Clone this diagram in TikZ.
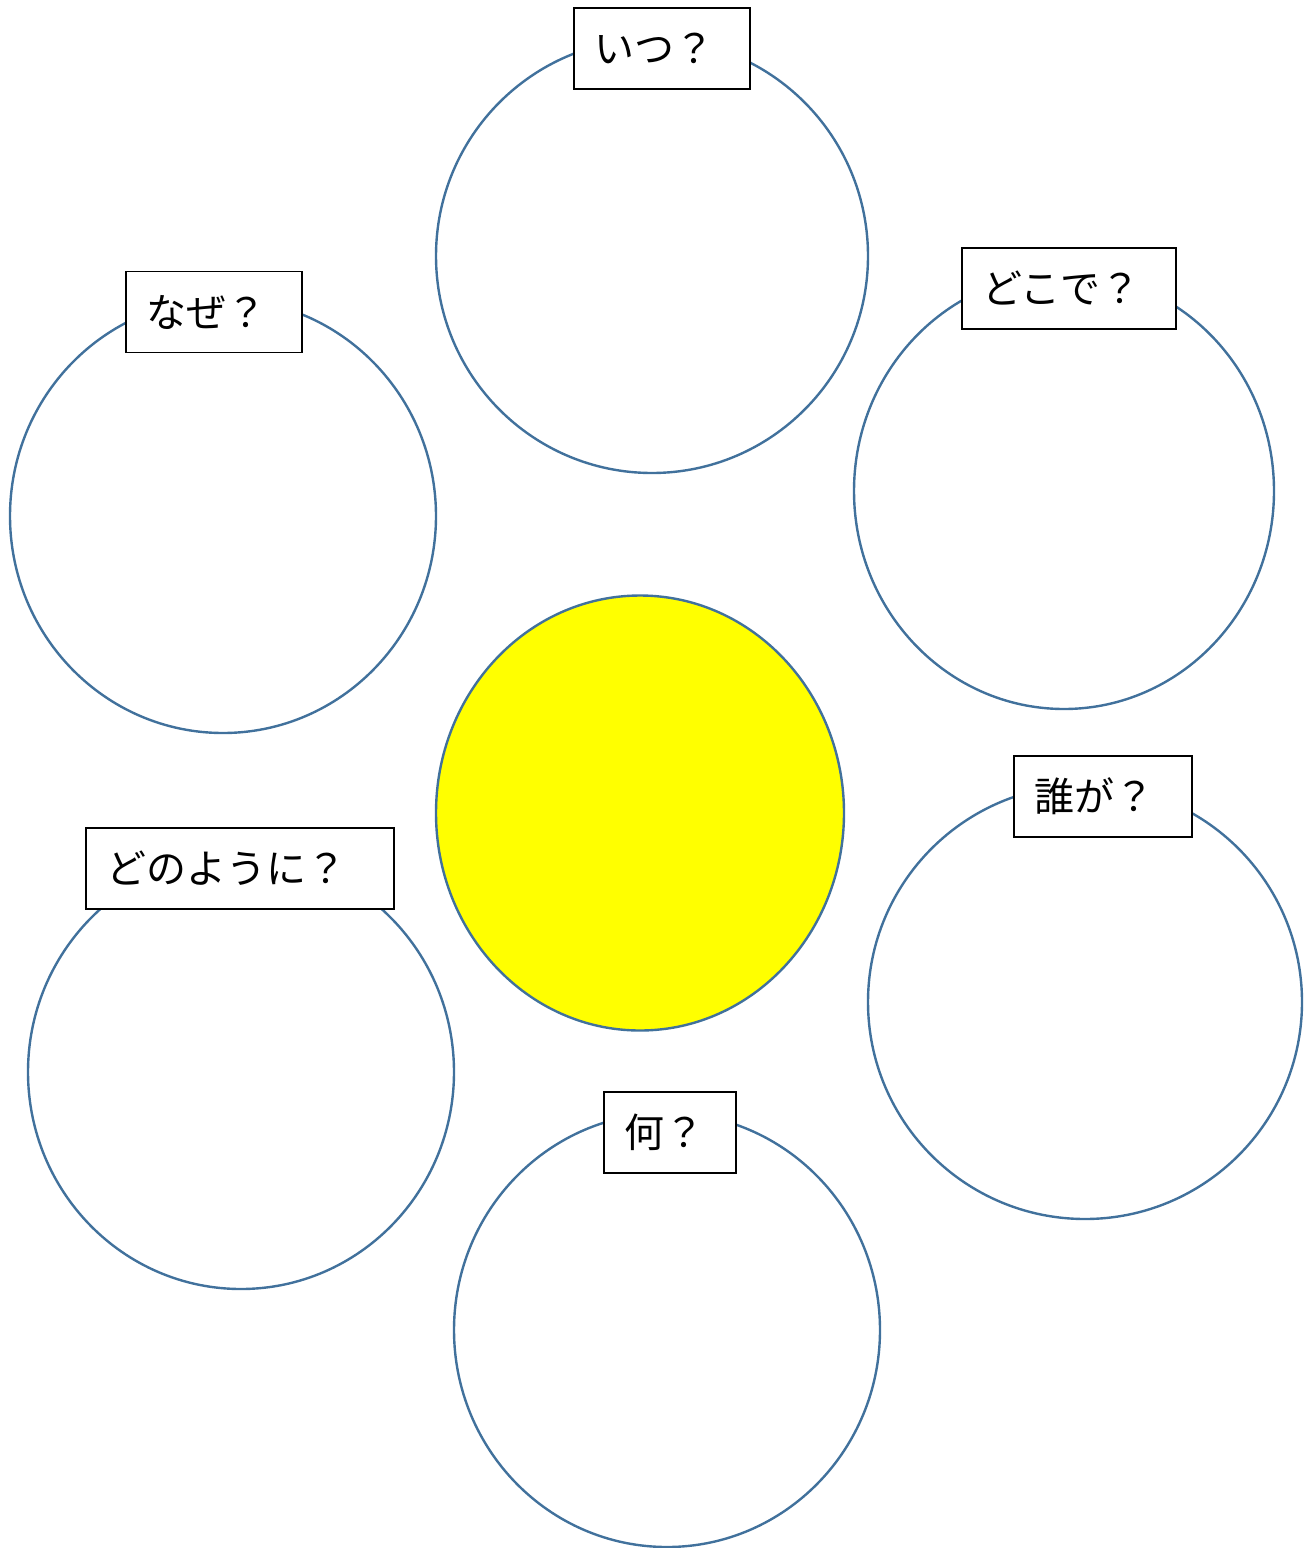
\documentclass[tikz,border=0pt]{standalone}
\usepackage{fontspec}
\newfontfamily\jpfont{Noto Sans CJK JP}
\usetikzlibrary{shapes.geometric}
\definecolor{ringblue}{HTML}{41719C}
\definecolor{centeryellow}{HTML}{FFFF00}
\begin{document}
\begin{tikzpicture}[x=1pt,y=-1pt,
  ring/.style={ellipse,draw=ringblue,line width=2.4pt,inner sep=0pt},
  tag/.style={draw=black,fill=white,line width=1.2pt,inner xsep=20pt,inner ysep=0pt,
     minimum height=81pt,align=left,font=\jpfont\fontsize{40}{44}\selectfont}]
\useasboundingbox (0,0) rectangle (1313,1548);
% circles
\node[ring,minimum width=432pt,minimum height=434pt] (c1) at (652,256) {};
\node[ring,minimum width=420pt,minimum height=436pt] (c2) at (1064,491) {};
\node[ring,minimum width=426pt,minimum height=434pt] (c3) at (223,516) {};
\node[ring,fill=centeryellow,minimum width=408pt,minimum height=435pt] (c0) at (640,813) {};
\node[ring,minimum width=434pt,minimum height=434pt] (c4) at (1085,1002) {};
\node[ring,minimum width=426pt,minimum height=434pt] (c5) at (241,1072) {};
\node[ring,minimum width=426pt,minimum height=434pt] (c6) at (667,1330) {};
% labels
\node[tag,text width=136pt] (t1) at (662,48.5) {いつ？};
\node[tag,text width=174pt] (t2) at (1069,288.5) {どこで？};
\node[tag,text width=136pt] (t3) at (214,312) {なぜ？};
\node[tag,text width=138pt] (t4) at (1103,796.5) {誰が？};
\node[tag,text width=268pt] (t5) at (240,868.5) {どのように？};
\node[tag,text width=92pt] (t6) at (670,1132.5) {何？};
\end{tikzpicture}
\end{document}
